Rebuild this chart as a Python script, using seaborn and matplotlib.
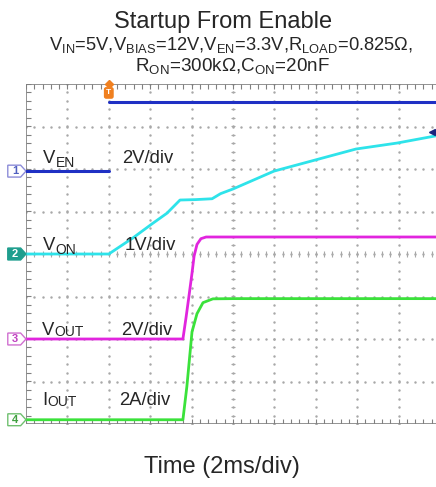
import matplotlib
matplotlib.use("Agg")
import matplotlib.pyplot as plt
import seaborn as sns
import numpy as np
import pandas as pd
from matplotlib.patches import Polygon

sns.set_style("white")
plt.rcParams['font.family'] = ['Liberation Sans', 'DejaVu Sans']

# Datos (tiempo en ms, trigger en t=0)
ms_per_div = 2
t_trigger_div = 2.0

# el flanco de V_EN no se ve en la captura -> hueco (NaN)
t_en = [-4, 0, np.nan, 0, 16]
v_en = [0, 0, np.nan, 3.25, 3.25]

t_on = [-4, 0, 1.17, 2.09, 2.81, 3.44, 4.2, 4.99, 5.4, 6.0, 7.98, 9.96, 11.94, 13.92, 15.8, 16]
v_on = [0, 0, 0.38, 0.71, 0.96, 1.27, 1.28, 1.30, 1.42, 1.53, 1.95, 2.21, 2.47, 2.61, 2.78, 2.80]

t_out = [-4, 3.58, 3.73, 3.87, 4.02, 4.12, 4.26, 4.45, 4.70, 6.0, 16]
v_out = [0, 0, 1.0, 2.0, 3.1, 3.9, 4.45, 4.72, 4.80, 4.80, 4.80]

t_iout = [-4, 3.58, 3.77, 4.02, 4.26, 4.55, 5.03, 6.0, 16]
i_out = [0, 0, 1.55, 4.14, 4.99, 5.51, 5.69, 5.70, 5.70]

# canal: (offset en div, escala por div, color)
canales = {
    'EN': (1.95, 2.0, '#1f30c4'),
    'ON': (0.0, 1.0, '#2ee3ea'),
    'OUT': (-2.0, 2.0, '#e125de'),
    'IOUT': (-3.9, 2.0, '#3be23b'),
}

fig = plt.figure(figsize=(4.36, 4.87), dpi=100)
W, H = 436, 487
ax = fig.add_axes([26 / W, (H - 424) / H, 414 / W, 340 / H])
ax.set_xlim(0, 10)
ax.set_ylim(-4, 4)
ax.axis('off')

# Retícula del osciloscopio
grid_c = '#a8a8a8'
pts = np.arange(0, 10.01, 0.2)
ptsy = np.arange(-4, 4.01, 0.2)
for gx in range(1, 10):
    ax.plot(np.full_like(ptsy, gx), ptsy, ls='none', marker='.', ms=1.5, color=grid_c)
for gy in range(-3, 4):
    ax.plot(pts, np.full_like(pts, gy), ls='none', marker='.', ms=1.5, color=grid_c)
# ejes centrales con marcas
ax.vlines(pts, -0.06, 0.06, color=grid_c, lw=0.8)
ax.hlines(ptsy, 5 - 0.06, 5 + 0.06, color=grid_c, lw=0.8)
# bordes
border_c = '#808080'
ax.plot([0, 0], [-4, 4], color=border_c, lw=1.2)
ax.plot([0, 10], [4, 4], color=border_c, lw=1.2)
ax.plot([0, 10], [-4, -4], color=border_c, lw=1.2)
ax.hlines(ptsy, 0, 0.12, color=border_c, lw=0.8)
ax.vlines(pts, 4 - 0.12, 4, color=border_c, lw=0.8)
ax.vlines(pts, -4, -4 + 0.12, color=border_c, lw=0.8)


def to_div(t, v, canal):
    off, esc, _ = canales[canal]
    x = np.array(t, dtype=float) / ms_per_div + t_trigger_div
    y = off + np.array(v, dtype=float) / esc
    return x, y


for canal, (t, v) in {'EN': (t_en, v_en), 'ON': (t_on, v_on),
                      'OUT': (t_out, v_out), 'IOUT': (t_iout, i_out)}.items():
    x, y = to_div(t, v, canal)
    if canal == 'EN':
        # dos tramos separados
        ax.plot(x, y, color=canales[canal][2], lw=2.2, zorder=7)
    else:
        sns.lineplot(x=x, y=y, ax=ax, color=canales[canal][2], lw=2.0,
                     estimator=None, sort=False)

# Marcadores de canal a la izquierda
marc = [('1', 'EN', 'white', '#8c8cd8', '#5060c0'),
        ('2', 'ON', '#1f9e8e', '#1f9e8e', 'white'),
        ('3', 'OUT', 'white', '#d070d0', '#c040c0'),
        ('4', 'IOUT', 'white', '#70c070', '#40a040')]
for num, canal, fc, ec, tc in marc:
    y0 = canales[canal][0]
    poly = Polygon([(-0.44, y0 - 0.14), (-0.13, y0 - 0.14), (0, y0),
                    (-0.13, y0 + 0.14), (-0.44, y0 + 0.14)],
                   closed=True, fc=fc, ec=ec, lw=1, clip_on=False, zorder=5)
    ax.add_patch(poly)
    ax.text(-0.27, y0, num, color=tc, fontsize=8, fontweight='bold',
            ha='center', va='center', clip_on=False, zorder=6)

# Marcador de trigger
ax.plot([2], [4], marker='D', ms=4, color='#f08020', clip_on=False, zorder=6)
ax.text(2, 3.79, 'T', color='white', fontsize=6, fontweight='bold', ha='center',
        va='center', zorder=6,
        bbox=dict(boxstyle='round,pad=0.2', fc='#f08020', ec='#f08020'))
ax.plot([9.81], [2.87], marker='<', ms=5, color='#1a237e', ls='none', zorder=6)


# Etiquetas de canales
def etiqueta(px, py, main, sub, drop):
    x = (px - 26) / 41.4
    y = (254 - py) / 42.5
    t = ax.text(x, y, main, fontsize=13.3, va='baseline')
    ax.annotate(sub, xy=(1, 0), xycoords=t, xytext=(0.3, -drop),
                textcoords='offset points', fontsize=10, va='bottom')


etiqueta(43, 163, 'V', 'EN', 2)
etiqueta(43, 250, 'V', 'ON', 2)
etiqueta(42, 335, 'V', 'OUT', 0)
etiqueta(42, 405, 'I', 'OUT', 0)
for px, py, s in [(122, 163, '2V/div'), (125, 250, '1V/div'),
                  (121, 335, '2V/div'), (119, 405, '2A/div')]:
    ax.text((px - 26) / 41.4, (254 - py) / 42.5, s, fontsize=13.3, va='baseline')

# Títulos
fig.text(223 / W, 1 - 28 / H, 'Startup From Enable', fontsize=17, ha='center', va='baseline')
fig.text(231 / W, 1 - 50 / H,
         r'V$_\mathregular{IN}$=5V,V$_\mathregular{BIAS}$=12V,V$_\mathregular{EN}$=3.3V,'
         r'R$_\mathregular{LOAD}$=0.825Ω,', fontsize=13.2, ha='center', va='baseline')
fig.text(232 / W, 1 - 72 / H, r'R$_\mathregular{ON}$=300kΩ,C$_\mathregular{ON}$=20nF',
         fontsize=13.6, ha='center', va='baseline')
fig.text(222 / W, 1 - 473 / H, 'Time (2ms/div)', fontsize=17, ha='center', va='baseline')

fig.savefig('out.png', dpi=100)
